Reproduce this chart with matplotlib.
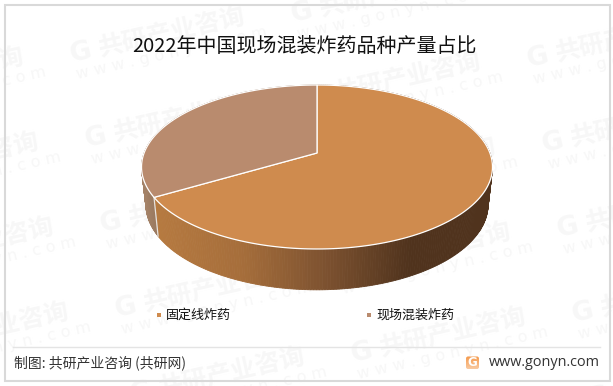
import numpy as np
import matplotlib
matplotlib.use("Agg")
import matplotlib.pyplot as plt
from matplotlib.colors import LinearSegmentedColormap
from matplotlib.patches import FancyBboxPatch, Polygon, Rectangle

plt.rcParams['font.family'] = ['Noto Sans CJK SC', 'DejaVu Sans']

title = "2022年中国现场混装炸药品种产量占比"
categories = ["固定线炸药", "现场混装炸药"]
shares = [66.5, 33.5]
top_colors = ["#CF8B4E", "#B98B6E"]
source = "制图: 共研产业咨询 (共研网)"
site = "www.gonyn.com"

W, H = 613, 386
CX, CY = 317, 153
MARK = "#f7f7f7"


# disc with a bit of perspective, front edge is nearer
def project(theta, sx=1.0, sy=1.0, dy=0.0):
    u, v = np.sin(theta), -np.cos(theta)
    d = 1 - 0.1707 * v
    return CX + 172.9 * sx * u / d, CY + dy + 79.6 * sy * v / d


fig = plt.figure(figsize=(W / 100, H / 100), dpi=100)
ax = fig.add_axes([0, 0, 1, 1])
ax.set_xlim(0, W)
ax.set_ylim(H, 0)
ax.axis("off")

# watermark grid
for i in range(-1, 4):
    for j in range(-1, 6):
        gx = 72 + 221 * i + 15 * j
        gy = 62 - 40 * i + 85 * j
        if gx < -170 or gx > W - 20 or gy < 10 or gy > H + 25:
            continue
        ax.text(gx, gy, "G", fontsize=19, fontweight="bold", color=MARK, rotation=12.7,
                rotation_mode="anchor", ha="left", va="baseline", family="DejaVu Sans", zorder=1)
        ax.text(gx + 28, gy - 6, "共研产业咨询", fontsize=18, fontweight="bold", color=MARK,
                rotation=12.7, rotation_mode="anchor", ha="left", va="baseline", zorder=1)
        ax.text(gx + 5, gy + 17, "w w w . g o n y n . c o m", fontsize=11.5, color=MARK,
                rotation=12.7, rotation_mode="anchor", ha="left", va="baseline",
                family="DejaVu Sans", zorder=1)

# side of the cylinder
front = LinearSegmentedColormap.from_list("front", ["#b67a40", "#a66e3b", "#7d5230", "#50331d", "#50331d"])
back = LinearSegmentedColormap.from_list("back", ["#a58368", "#93735a"])
edges = np.cumsum([0] + shares) / sum(shares) * 2 * np.pi

for k, cmap in enumerate([front, back]):
    th = np.linspace(edges[k], edges[k + 1], 300)
    x0, y0 = project(th)
    x1, y1 = project(th, 0.975, 1.04, 37)
    for n in range(len(th) - 1):
        xm = (x0[n] + x0[n + 1]) / 2
        if k == 0:
            col = cmap(np.clip((xm - 155) / 340, 0, 1))
        else:
            col = cmap(np.clip((xm - 141) / 20, 0, 1))
        ax.add_patch(Polygon([(x0[n], y0[n]), (x0[n + 1], y0[n + 1]), (x1[n + 1], y1[n + 1]), (x1[n], y1[n])],
                             closed=True, facecolor=col, edgecolor=col, lw=0.6, zorder=3))

# white seam between the two sides
sx0, sy0 = project(edges[1])
sx1, sy1 = project(edges[1], 0.975, 1.04, 37)
ax.plot([sx0, sx1], [sy0, sy1], color="#e8e2dc", lw=0.9, zorder=4)

# top face
for k in range(2):
    th = np.linspace(edges[k], edges[k + 1], 300)
    x0, y0 = project(th)
    pts = np.column_stack([np.r_[CX, x0], np.r_[CY, y0]])
    ax.add_patch(Polygon(pts, closed=True, facecolor=top_colors[k], edgecolor="white", lw=0.9, zorder=5))

# frame and divider
ax.add_patch(Rectangle((4.5, 4.5), 605.5, 376.5, fill=False, edgecolor="#d9d9d9", lw=1.5, zorder=6))
ax.plot([13, 600], [347, 347], color="#e4e4e4", lw=1, zorder=6)

ax.text(304.5, 46, title, fontsize=14.4, color="#111111", ha="center", va="center", zorder=7)

# legend
ax.add_patch(Rectangle((157, 313), 4, 4, facecolor=top_colors[0], edgecolor="none", zorder=7))
ax.text(166, 315, categories[0], fontsize=9.4, color="#111111", ha="left", va="center", zorder=7)
ax.add_patch(Rectangle((367, 313), 4, 4, facecolor=top_colors[1], edgecolor="none", zorder=7))
ax.text(376, 315, categories[1], fontsize=9.4, color="#111111", ha="left", va="center", zorder=7)

# footer
ax.text(14, 363, source, fontsize=10, color="#333333", ha="left", va="center", zorder=7)
ax.text(600, 362, site, fontsize=10.4, color="#333333", ha="right", va="center",
        family="Open Sans", zorder=7)

# logo
logo = FancyBboxPatch((466, 356.5), 13, 12.5, boxstyle="round,pad=0,rounding_size=2",
                      facecolor="none", edgecolor="none", zorder=7)
ax.add_patch(logo)
grad = LinearSegmentedColormap.from_list("logo", ["#f5994a", "#f9c9a0"])
img = ax.imshow(np.linspace(0, 1, 32).reshape(-1, 1), cmap=grad, extent=(466, 479, 369, 356.5),
                aspect="auto", zorder=7)
img.set_clip_path(logo)
ax.text(472.5, 362.8, "G", fontsize=8.5, fontweight="bold", color="white", ha="center", va="center",
        family="DejaVu Sans", zorder=8)
ax.set_xlim(0, W)
ax.set_ylim(H, 0)

fig.savefig("out.png", dpi=100)
